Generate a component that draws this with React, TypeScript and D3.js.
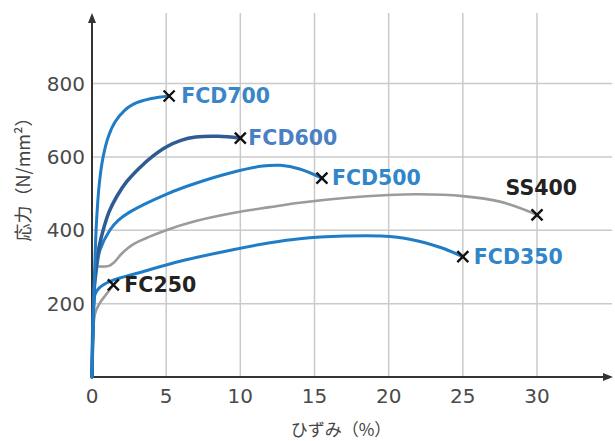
import React from "react";
import * as d3 from "d3";

// strain (%) / stress (N/mm²)
const fcd700 = [[0, 0], [0.15, 250], [0.3, 420], [0.5, 530], [0.75, 600], [1.1, 655], [1.55, 695], [2.2, 727], [2.8, 744], [4, 759], [5.2, 766]];
const fcd600 = [[0, 0], [0.15, 250], [0.3, 310], [0.45, 350], [0.75, 400], [1.15, 450], [1.67, 492], [2.35, 533], [3.2, 570], [4.1, 602], [5, 627], [6, 645], [7, 654], [8.5, 656], [10, 651]];
const fcd500 = [[0, 0], [0.15, 230], [0.3, 290], [0.54, 346], [1.2, 400], [1.75, 426], [2.56, 450], [5, 498], [7, 528], [9.5, 558], [11.5, 575], [12.7, 577], [14, 567], [15.5, 542]];
const ss400 = [[0, 0], [0.1, 180], [0.18, 270], [0.26, 298], [0.4, 301], [0.8, 301], [1.15, 303], [1.5, 313], [2, 336], [2.8, 362], [5, 400], [7, 425], [9.5, 447], [12, 463], [14, 475], [17, 488], [20, 496], [22, 498], [25, 493], [27.5, 478], [30, 442]];
const fcd350 = [[0, 0], [0.1, 180], [0.2, 225], [0.42, 240], [0.8, 252], [1.43, 264], [3.24, 285], [6, 316], [9.5, 347], [12, 366], [14, 377], [17, 384], [19.5, 384], [21.5, 375], [23.5, 353], [25, 328]];
const fc250 = [[0, 0], [0.05, 100], [0.2, 172], [0.5, 200], [0.9, 222], [1.44, 251]];

const seriesNames = ["SS400", "FC250", "FCD350", "FCD500", "FCD600", "FCD700"];
const seriesData = [ss400, fc250, fcd350, fcd500, fcd600, fcd700];

const xTicks = [0, 5, 10, 15, 20, 25, 30];
const yTicks = [200, 400, 600, 800];

const lineColor: Record<string, string> = {
  SS400: "#9b9b9b",
  FC250: "#9b9b9b",
  FCD350: "#1f7cc6",
  FCD500: "#1f7cc6",
  FCD600: "#2f5b93",
  FCD700: "#1f7cc6",
};
const textColor: Record<string, string> = {
  SS400: "#222",
  FC250: "#222",
  FCD350: "#2f86c9",
  FCD500: "#2f86c9",
  FCD600: "#4a7fc4",
  FCD700: "#3a86c9",
};
// label offset from the end mark
const labelOff: Record<string, [number, number, string]> = {
  SS400: [40, -20, "end"],
  FC250: [11, 7, "start"],
  FCD350: [11, 7, "start"],
  FCD500: [10, 7, "start"],
  FCD600: [8, 7, "start"],
  FCD700: [12, 7, "start"],
};

export default function App() {
  const W = 615;
  const H = 441;
  const x = d3.scaleLinear().domain([0, 30]).range([92, 537]);
  const y = d3.scaleLinear().domain([0, 800]).range([377, 83.5]);
  const line = d3
    .line<number[]>()
    .x((d) => x(d[0]))
    .y((d) => y(d[1]))
    .curve(d3.curveCatmullRom.alpha(0.5));

  const x0 = x(0);
  const y0 = y(0);
  const font = "DejaVu Sans, sans-serif";

  return (
    <svg width={W} height={H} style={{ position: "absolute", left: 0, top: 0, background: "#fff" }}>
      {/* grid */}
      {xTicks.filter((t) => t > 0).map((t) => (
        <line key={"gx" + t} x1={x(t)} x2={x(t)} y1={13} y2={y0} stroke="#cacaca" strokeWidth={1.5} />
      ))}
      {yTicks.map((t) => (
        <line key={"gy" + t} x1={x0} x2={612} y1={y(t)} y2={y(t)} stroke="#cacaca" strokeWidth={1.5} />
      ))}

      {/* axes with arrows */}
      <line x1={x0} x2={x0} y1={y0} y2={20} stroke="#333" strokeWidth={2} />
      <path d={`M${x0},13 L${x0 - 4},23 L${x0 + 4},23 Z`} fill="#333" />
      <line x1={x0} x2={606} y1={y0} y2={y0} stroke="#333" strokeWidth={2} />
      <path d={`M613,${y0} L603,${y0 - 4} L603,${y0 + 4} Z`} fill="#333" />

      {/* tick labels */}
      {xTicks.map((t) => (
        <text key={"tx" + t} x={x(t)} y={403} textAnchor="middle" fontFamily={font} fontSize={20} fill="#4a4a4a">
          {t}
        </text>
      ))}
      {yTicks.map((t) => (
        <text key={"ty" + t} x={85} y={y(t) + 7} textAnchor="end" fontFamily={font} fontSize={20} fill="#4a4a4a">
          {t}
        </text>
      ))}

      {/* axis titles */}
      <text
        transform="translate(30,175) rotate(-90)"
        textAnchor="middle"
        fontFamily="Noto Sans CJK JP, sans-serif"
        fontSize={18}
        fill="#444"
      >
        応力（N/mm²）
      </text>
      <text x={341} y={436} textAnchor="middle" fontFamily="Noto Sans CJK JP, sans-serif" fontSize={17} fill="#444">
        ひずみ（%）
      </text>

      {/* curves */}
      {seriesData.map((d, i) => {
        const name = seriesNames[i];
        return (
          <path
            key={name}
            d={line(d) || ""}
            fill="none"
            stroke={lineColor[name]}
            strokeWidth={name === "FCD600" ? 3.5 : name === "SS400" || name === "FC250" ? 2.6 : 3}
            strokeLinecap="round"
            strokeLinejoin="round"
          />
        );
      })}

      {/* end marks and labels */}
      {seriesData.map((d, i) => {
        const name = seriesNames[i];
        const last = d[d.length - 1];
        const px = x(last[0]);
        const py = y(last[1]);
        const s = 5.5;
        const [dx, dy, anchor] = labelOff[name];
        return (
          <g key={"m" + name}>
            <path d={`M${px - s},${py - s}L${px + s},${py + s}M${px - s},${py + s}L${px + s},${py - s}`} stroke="#111" strokeWidth={2.4} />
            <text
              x={px + dx}
              y={py + dy}
              textAnchor={anchor}
              fontFamily={font}
              fontWeight="bold"
              fontSize={20.5}
              fill={textColor[name]}
            >
              {name}
            </text>
          </g>
        );
      })}
    </svg>
  );
}
